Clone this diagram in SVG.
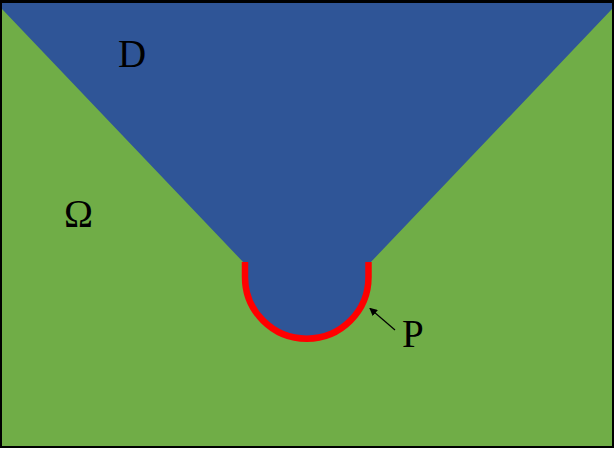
<svg xmlns="http://www.w3.org/2000/svg" width="614" height="449" viewBox="0 0 614 449">
<defs>
<style>
.lbl{font-family:"Liberation Serif","Times New Roman",serif;font-size:39px;fill:#000}
</style>
<marker id="ah" markerWidth="8" markerHeight="8" refX="7" refY="4" orient="auto" markerUnits="userSpaceOnUse">
<path d="M0,0 L8,4 L0,8 Z" fill="#000"/>
</marker>
</defs>
<g id="omega">
<rect x="1" y="1" width="612" height="446" fill="#70AD47" stroke="#000" stroke-width="2"/>
</g>
<g id="D">
<path d="M2,2 L612,2 L612,9 L369,264 L369,277 A62,62 0 0 1 245,277 L245,264 L2,9 Z" fill="#2F5597"/>
<path d="M2,1.5 L612,1.5" stroke="#000" stroke-width="3"/>
</g>
<g id="P">
<path d="M245,262 L245,277 A61.75,61.75 0 0 0 368.5,277 L368.5,262" fill="none" stroke="#FF0000" stroke-width="6.5"/>
</g>
<g id="connectors">
<line x1="395" y1="330" x2="370" y2="308.5" stroke="#000" stroke-width="1.2" marker-end="url(#ah)"/>
</g>
<g id="labels">
<text class="lbl" x="118" y="67">D</text>
<text class="lbl" x="78.5" y="227" text-anchor="middle">Ω</text>
<text class="lbl" x="402" y="347">P</text>
</g>
</svg>
